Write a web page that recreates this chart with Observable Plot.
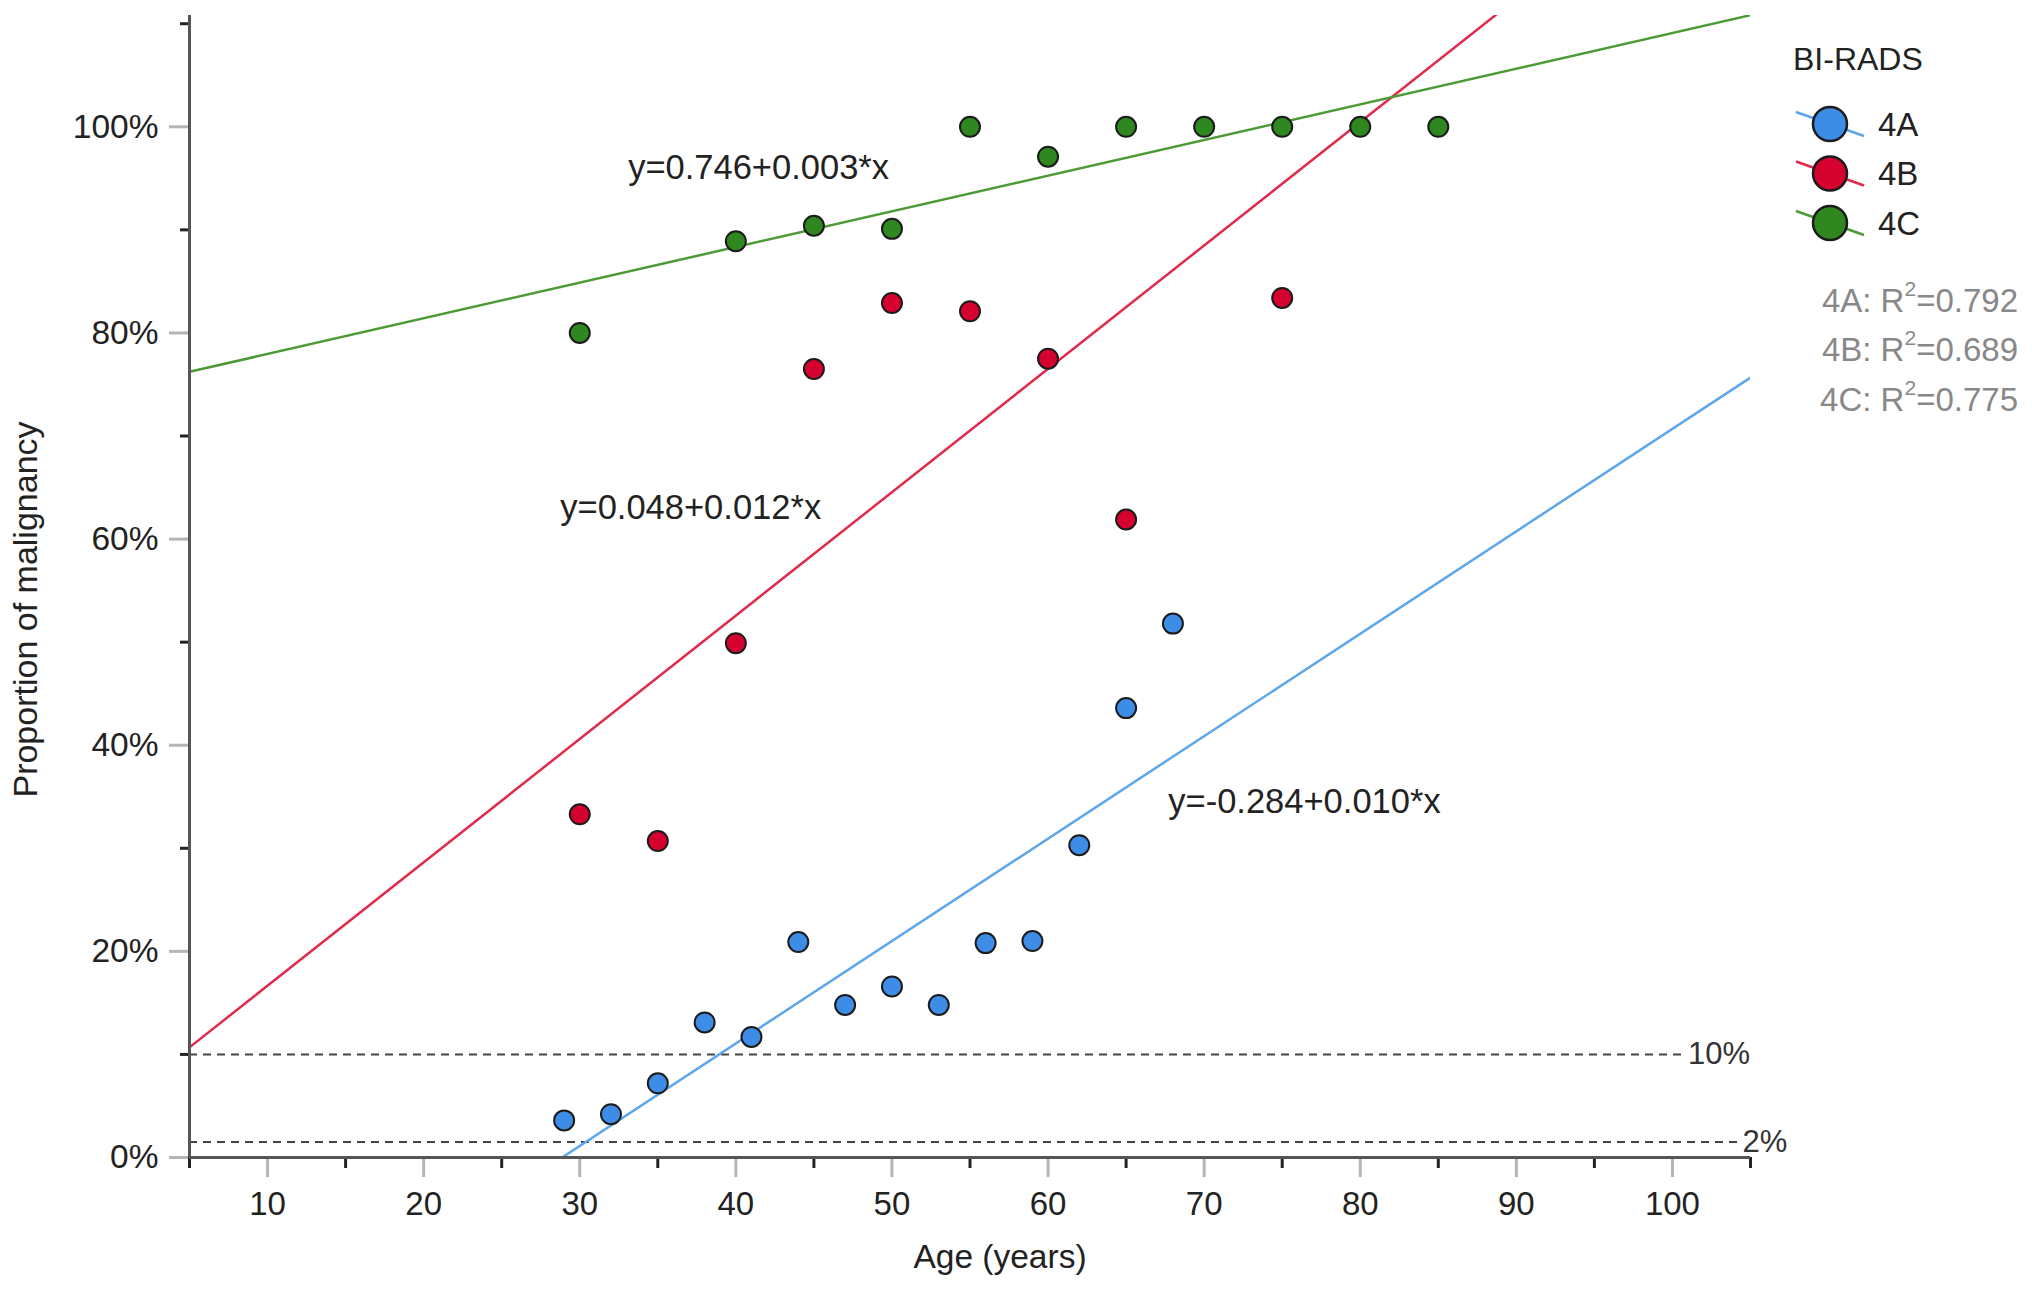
<!DOCTYPE html>
<html>
<head>
<meta charset="utf-8">
<script src="https://cdn.jsdelivr.net/npm/d3@7"></script>
<script src="https://cdn.jsdelivr.net/npm/@observablehq/plot@0.6"></script>
<style>
  body { margin: 0; background: white; }
  #chart { width: 2032px; height: 1300px; }
</style>
</head>
<body>
<div id="chart"></div>
<script>
// groups
const groups = ["4A", "4B", "4C"]
const dotColors = ["#3d8de6", "#d5022f", "#2e871f"]
const lineColors = ["#5ea6ec", "#e02a4e", "#4c9a35"]

// observed proportions per age
const ageA = [29, 32, 35, 38, 41, 44, 47, 50, 53, 56, 59, 62, 65, 68]
const propA = [0.036, 0.042, 0.072, 0.131, 0.117, 0.209, 0.148, 0.166, 0.148, 0.208, 0.210, 0.303, 0.436, 0.518]
const ageB = [30, 35, 40, 45, 50, 55, 60, 65, 75]
const propB = [0.333, 0.307, 0.499, 0.765, 0.829, 0.821, 0.775, 0.619, 0.834]
const ageC = [30, 40, 45, 50, 55, 60, 65, 70, 75, 80, 85]
const propC = [0.800, 0.889, 0.904, 0.901, 1.0, 0.971, 1.0, 1.0, 1.0, 1.0, 1.0]

// fitted lines (intercept, slope) as drawn
const fitIntercept = [-0.287, 0.047, 0.745]
const fitSlope = [0.00994, 0.01197, 0.00346]
const r2 = ["0.792", "0.689", "0.775"]

// equation labels
const eqText = ["y=-0.284+0.010*x", "y=0.048+0.012*x", "y=0.746+0.003*x"]
const eqX = [67.7, 28.75, 33.1]
const eqY = [0.345, 0.630, 0.960]

// reference thresholds
const thrValue = [0.10, 0.015]
const thrLabel = ["10%", "2%"]
const thrEnd = [100.8, 104.3]

// axes
const xDomain = [5, 105]
const yDomain = [0, 1.108]
const xTicks = [10, 20, 30, 40, 50, 60, 70, 80, 90, 100]
const xMinor = [5, 15, 25, 35, 45, 55, 65, 75, 85, 95, 105]
const yTicks = [0, 0.2, 0.4, 0.6, 0.8, 1.0]
const yMinor = [0.1, 0.3, 0.5, 0.7, 0.9, 1.1]

const ages = [ageA, ageB, ageC]
const props = [propA, propB, propC]
const points = groups.flatMap((g, i) => ages[i].map((a, j) => ({group: i, age: a, p: props[i][j]})))
const fitLines = groups.flatMap((g, i) => xDomain.map(x => ({group: i, age: x, p: fitIntercept[i] + fitSlope[i] * x})))
const thresholds = thrValue.map((v, i) => ({v, label: thrLabel[i], end: thrEnd[i]}))
const equations = eqText.map((t, i) => ({t, x: eqX[i], y: eqY[i]}))

const font = "Liberation Sans, Arial, Helvetica, sans-serif"

let chart = Plot.plot({
  width: 2032,
  height: 1300,
  marginLeft: 189,
  marginRight: 282,
  marginTop: 15,
  marginBottom: 143,
  x: {domain: xDomain},
  y: {domain: yDomain},
  color: {type: "identity"},
  style: {background: "white", fontFamily: font, fontSize: "33px", color: "#222"},
  marks: [
    Plot.ruleY(thresholds, {y: "v", x1: xDomain[0], x2: "end", stroke: "#444", strokeWidth: 2, strokeDasharray: "8,6"}),
    Plot.text(thresholds, {y: "v", x: "end", text: "label", dx: 3, textAnchor: "start", fontSize: 31, fill: "#333"}),

    Plot.line(fitLines, {x: "age", y: "p", z: "group", stroke: d => lineColors[d.group], strokeWidth: 2.5, clip: true}),

    Plot.axisY({ticks: yMinor, tickSize: 9, stroke: "#222", strokeWidth: 3, fill: "none", label: null}),
    Plot.axisY({ticks: yTicks, tickSize: 20, stroke: "#b5b5b5", strokeWidth: 3, tickPadding: 11,
      tickFormat: d3.format(".0%"), fontSize: 33.5, fill: "#222", label: null}),
    Plot.axisX({ticks: xMinor, tickSize: 11, stroke: "#222", strokeWidth: 3, fill: "none", label: null}),
    Plot.axisX({ticks: xTicks, tickSize: 20, stroke: "#b5b5b5", strokeWidth: 3, tickPadding: 14,
      fontSize: 33, fill: "#222", label: null}),
    Plot.ruleX([xDomain[0]], {stroke: "#555", strokeWidth: 3}),
    Plot.ruleY([0], {stroke: "#555", strokeWidth: 3}),

    Plot.dot(points, {x: "age", y: "p", r: 10, fill: d => dotColors[d.group], stroke: "#1b1b1b", strokeWidth: 2}),

    Plot.text(equations, {x: "x", y: "y", text: "t", textAnchor: "start", fontSize: 34.5, fill: "#222"}),

    Plot.text(["Age (years)"], {frameAnchor: "bottom", dy: 110, dx: 30, fontSize: 33.5, fill: "#222"}),
    Plot.text(["Proportion of malignancy"], {frameAnchor: "left", textAnchor: "middle", dx: -163, dy: 23,
      rotate: -90, fontSize: 34, fill: "#222"})
  ]
})

// legend + R² notes on the right
const svg = d3.select(chart)
const leg = svg.append("g").attr("font-family", font).attr("text-anchor", "start")
leg.append("text").attr("x", 1793).attr("y", 59).attr("dy", "0.35em")
  .attr("font-size", 32).attr("fill", "#222").text("BI-RADS")
groups.forEach((g, i) => {
  const cy = 124 + i * 49.5
  const row = leg.append("g").attr("transform", `translate(1830,${cy})`)
  row.append("line").attr("x1", -34).attr("y1", -12).attr("x2", 34).attr("y2", 12)
    .attr("stroke", lineColors[i]).attr("stroke-width", 2.5)
  row.append("circle").attr("r", 17).attr("fill", dotColors[i]).attr("stroke", "#1b1b1b").attr("stroke-width", 2.5)
  row.append("text").attr("x", 48).attr("dy", "0.35em").attr("font-size", 33).attr("fill", "#222").text(g)
})
groups.forEach((g, i) => {
  const t = leg.append("text").attr("x", 2018).attr("y", 300 + i * 49.5).attr("dy", "0.35em")
    .attr("text-anchor", "end").attr("font-size", 33).attr("fill", "#888")
  t.append("tspan").text(`${g}: R`)
  t.append("tspan").attr("font-size", 21).attr("dy", "-0.75em").text("2")
  t.append("tspan").attr("dy", "0.48em").text(`=${r2[i]}`)
})

d3.select('#chart').append(() => chart)
</script>
</body>
</html>
